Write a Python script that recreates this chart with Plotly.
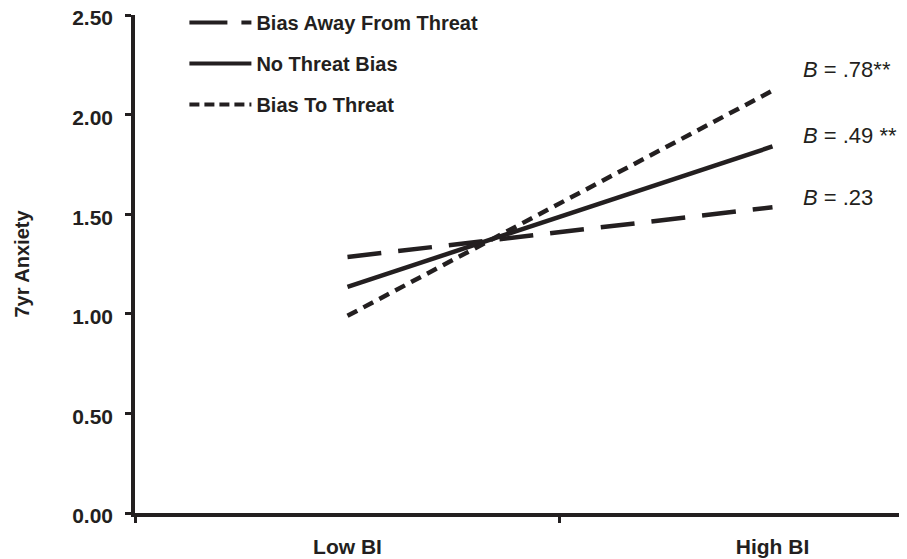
import plotly.graph_objects as go

categories = ["Low BI", "High BI"]
series_names = ["Bias Away From Threat", "No Threat Bias", "Bias To Threat"]
bias_away = [1.285, 1.535]
no_bias = [1.135, 1.84]
bias_to = [0.99, 2.12]
slope_labels = ["<i>B</i> = .78**", "<i>B</i> = .49 **", "<i>B</i> = .23"]
slope_label_y = [2.225, 1.895, 1.585]
y_ticks = [0, 0.5, 1.0, 1.5, 2.0, 2.5]

ink = "#231f20"
dashes = ["34px,17px", "solid", "11px,7px"]
legend_dashes = ["38px,14px", "solid", "10px,5px"]
values = [bias_away, no_bias, bias_to]

fig = go.Figure()
for i, (name, vals, d) in enumerate(zip(series_names, values, dashes)):
    fig.add_trace(go.Scatter(
        x=categories, y=vals, mode="lines", name=name,
        line=dict(color=ink, width=4.5, dash=d),
        showlegend=False,
    ))
# legend keys (no data, only the key sample)
for i, (name, d) in enumerate(zip(series_names, legend_dashes)):
    fig.add_trace(go.Scatter(
        x=[None], y=[None], mode="lines", name=name,
        line=dict(color=ink, width=4, dash=d),
        legendgroup=f"g{i}", showlegend=True,
    ))

for txt, yy in zip(slope_labels, slope_label_y):
    fig.add_annotation(x=1.068, y=yy, xref="x", yref="y", text=txt,
                       showarrow=False, xanchor="left", yanchor="middle",
                       font=dict(family="Liberation Sans, Arial", size=22, color=ink))

fig.update_layout(
    width=899, height=551,
    margin=dict(l=127, r=0, t=7, b=46, autoexpand=False),
    paper_bgcolor="white", plot_bgcolor="white",
    font=dict(family="Liberation Sans, Arial", color=ink),
    legend=dict(x=0.064, y=1.024, xanchor="left", yanchor="top",
                font=dict(size=20, weight="bold", color=ink),
                itemwidth=62,
                tracegroupgap=12, bgcolor="rgba(0,0,0,0)"),
    xaxis=dict(
        type="category", range=[-0.5, 1.3165],
        showline=True, linecolor=ink, linewidth=4,
        ticks="outside", tickson="boundaries", ticklen=6, tickwidth=3, tickcolor=ink,
        tickfont=dict(size=21, weight="bold", color=ink),
        ticklabelstandoff=12, automargin=False, ticklabeloverflow="allow",
        showgrid=False, zeroline=False,
    ),
    yaxis=dict(
        range=[0, 2.5], tickvals=y_ticks, tickformat=".2f",
        showline=True, linecolor=ink, linewidth=3.5,
        ticks="outside", ticklen=6, tickwidth=3, tickcolor=ink,
        tickfont=dict(size=21, weight="bold", color=ink),
        ticklabelstandoff=8, ticklabelshift=3,
        automargin=False, ticklabeloverflow="allow",
        showgrid=False, zeroline=False,
        title=dict(text="7yr Anxiety", font=dict(size=20, weight="bold", color=ink), standoff=38),
    ),
)

fig.write_html("out.html")
